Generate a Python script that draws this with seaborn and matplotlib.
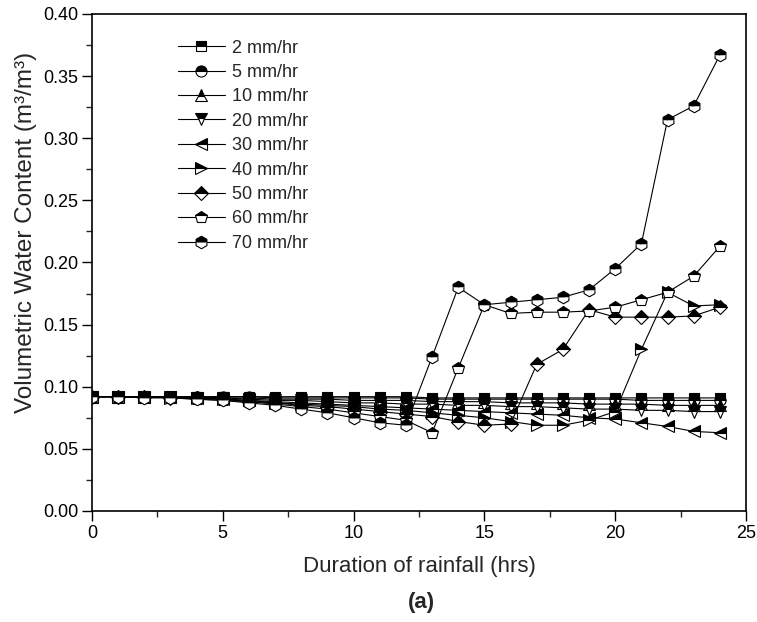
import matplotlib
matplotlib.use("Agg")
import matplotlib.pyplot as plt
from matplotlib.ticker import MultipleLocator, FormatStrFormatter
import seaborn as sns
import pandas as pd

hours = list(range(25))

series_labels = ["2 mm/hr", "5 mm/hr", "10 mm/hr", "20 mm/hr", "30 mm/hr",
                 "40 mm/hr", "50 mm/hr", "60 mm/hr", "70 mm/hr"]

vwc_2 = [0.092, 0.092, 0.092, 0.092, 0.092, 0.092, 0.092, 0.092, 0.092, 0.092, 0.092, 0.092, 0.092,
         0.091, 0.091, 0.091, 0.091, 0.091, 0.091, 0.091, 0.091, 0.091, 0.091, 0.091, 0.091]
vwc_5 = [0.092, 0.092, 0.092, 0.092, 0.092, 0.092, 0.092, 0.091, 0.091, 0.091, 0.091, 0.091, 0.091,
         0.090, 0.090, 0.090, 0.090, 0.090, 0.090, 0.090, 0.090, 0.089, 0.089, 0.089, 0.089]
vwc_10 = [0.092, 0.092, 0.092, 0.092, 0.092, 0.091, 0.091, 0.090, 0.090, 0.090, 0.089, 0.089, 0.089,
          0.088, 0.088, 0.088, 0.087, 0.087, 0.087, 0.086, 0.086, 0.086, 0.085, 0.085, 0.085]
vwc_20 = [0.092, 0.092, 0.092, 0.092, 0.091, 0.091, 0.090, 0.089, 0.089, 0.088, 0.087, 0.087, 0.086,
          0.086, 0.085, 0.085, 0.084, 0.084, 0.083, 0.082, 0.082, 0.081, 0.081, 0.080, 0.080]
vwc_30 = [0.092, 0.092, 0.092, 0.092, 0.091, 0.090, 0.089, 0.088, 0.087, 0.086, 0.085, 0.084, 0.083,
          0.082, 0.081, 0.080, 0.079, 0.078, 0.077, 0.075, 0.074, 0.071, 0.068, 0.064, 0.063]
vwc_40 = [0.092, 0.092, 0.092, 0.091, 0.091, 0.090, 0.089, 0.087, 0.086, 0.085, 0.084, 0.082, 0.081,
          0.079, 0.077, 0.075, 0.072, 0.069, 0.069, 0.073, 0.080, 0.130, 0.176, 0.165, 0.166]
vwc_50 = [0.092, 0.092, 0.092, 0.091, 0.091, 0.090, 0.088, 0.087, 0.085, 0.084, 0.082, 0.080, 0.078,
          0.076, 0.072, 0.069, 0.070, 0.118, 0.130, 0.162, 0.156, 0.156, 0.156, 0.157, 0.164]
vwc_60 = [0.092, 0.092, 0.092, 0.091, 0.090, 0.089, 0.088, 0.086, 0.084, 0.082, 0.079, 0.076, 0.073,
          0.063, 0.115, 0.166, 0.159, 0.160, 0.160, 0.161, 0.164, 0.170, 0.176, 0.189, 0.213]
vwc_70 = [0.092, 0.092, 0.091, 0.091, 0.090, 0.089, 0.087, 0.085, 0.082, 0.079, 0.075, 0.071, 0.069,
          0.124, 0.180, 0.166, 0.168, 0.170, 0.172, 0.178, 0.195, 0.215, 0.315, 0.326, 0.367]

all_series = [vwc_2, vwc_5, vwc_10, vwc_20, vwc_30, vwc_40, vwc_50, vwc_60, vwc_70]
marker_list = ["s", "o", "^", "v", "<", ">", "D", "p", "h"]
marker_sizes = [7, 8, 8, 8, 8, 8, 7, 9, 9]

x_ticks = [0, 5, 10, 15, 20, 25]
y_ticks = [0.00, 0.05, 0.10, 0.15, 0.20, 0.25, 0.30, 0.35, 0.40]

sns.set_style("ticks")
plt.rcParams["font.family"] = ["Liberation Sans", "DejaVu Sans"]

fig = plt.figure(figsize=(7.57, 6.22), dpi=100)
ax = fig.add_axes([0.1215, 0.1785, 0.864, 0.799])

for lab, vals, mk, ms in zip(series_labels, all_series, marker_list, marker_sizes):
    df = pd.DataFrame({"hour": hours, "vwc": vals})
    sns.lineplot(data=df, x="hour", y="vwc", ax=ax, color="black", linewidth=0.8,
                 marker=mk, markersize=ms, fillstyle="top",
                 markerfacecolor="black", markerfacecoloralt="white",
                 markeredgecolor="black", markeredgewidth=0.8, label=lab)

ax.set_xlim(0, 25)
ax.set_ylim(0, 0.40)
ax.set_xticks(x_ticks)
ax.set_yticks(y_ticks)
ax.yaxis.set_major_formatter(FormatStrFormatter("%.2f"))
ax.xaxis.set_minor_locator(MultipleLocator(2.5))
ax.yaxis.set_minor_locator(MultipleLocator(0.025))
ax.tick_params(which="major", direction="out", length=7, width=1, labelsize=13,
               colors="black", pad=3)
ax.tick_params(which="minor", direction="out", length=4, width=1)
for sp in ax.spines.values():
    sp.set_visible(True)
    sp.set_linewidth(1.2)
    sp.set_color("black")

ax.set_xlabel("Duration of rainfall (hrs)", fontsize=16, labelpad=10)
ax.set_ylabel("Volumetric Water Content (m³/m³)", fontsize=17.5)
ax.yaxis.set_label_coords(-0.084, 0.56)

fig.text(0.557, 0.032, "(a)", fontsize=16, fontweight="bold", ha="center", va="center")

leg = ax.legend(loc="upper left", bbox_to_anchor=(0.12, 0.963), frameon=False,
                fontsize=13, handlelength=2.6, labelspacing=0.41, handletextpad=0.4,
                borderaxespad=0.0)

fig.savefig("out.png", dpi=100)
